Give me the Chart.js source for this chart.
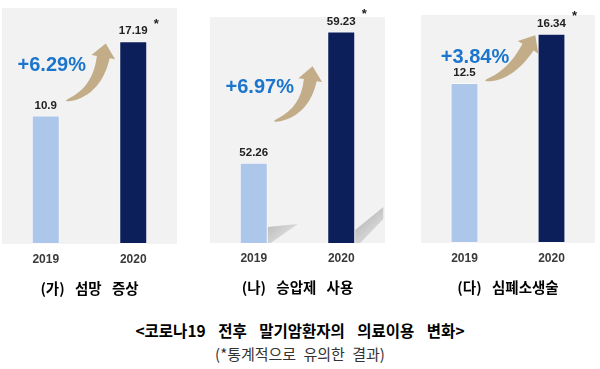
<!DOCTYPE html>
<html>
<head>
<meta charset="utf-8">
<script src="https://cdn.jsdelivr.net/npm/chart.js@4.4.1/dist/chart.umd.min.js"></script>
<style>
  html, body { margin: 0; padding: 0; background: #fff; }
  body { width: 600px; height: 369px; position: relative; overflow: hidden; font-family: "Noto Sans CJK KR", sans-serif; }
  .panel { position: absolute; top: 0; width: 200px; height: 300px; }
  #p1 { left: 0; } #p2 { left: 200px; } #p3 { left: 400px; }
  .caption { position: absolute; left: 0; width: 600px; text-align: center; color: #000; white-space: nowrap; }
  #title { top: 320px; font-weight: bold; font-size: 15.5px; line-height: 20px; word-spacing: 9px; }
  #note { top: 345px; font-size: 15px; line-height: 18px; color: #333; word-spacing: 4px; }
</style>
</head>
<body>
<div class="panel" id="p1"><canvas id="c1" width="200" height="300"></canvas></div>
<div class="panel" id="p2"><canvas id="c2" width="200" height="300"></canvas></div>
<div class="panel" id="p3"><canvas id="c3" width="200" height="300"></canvas></div>
<div class="caption" id="title">&lt;코로나19 전후 말기암환자의 의료이용 변화&gt;</div>
<div class="caption" id="note">(*통계적으로 유의한 결과)</div>
<script>
  /* ─── Data ─── */
  const years = ["2019", "2020"];
  const panelTitles = ["(가) 섬망 증상", "(나) 승압제 사용", "(다) 심폐소생술"];
  const deliriumValues = [10.9, 17.19];
  const vasopressorValues = [52.26, 59.23];
  const cprValues = [12.5, 16.34];
  const changeLabels = ["+6.29%", "+6.97%", "+3.84%"];
  const significant = [false, true];
  const yMins = [0, 48, 0];
  const yMaxes = [20, 60, 17.8];

  /* ─── Styles ─── */
  const BAR_COLORS = ["#adc7eb", "#0c1f5b"];
  const BG = "#f2f2f2";
  const ARROW = "#c3ad88";
  const PCT = "#1b75cc";

  // per-panel layout: padding of the plot box and decoration offsets (px)
  const layouts = [
    { pad: { left: 2, right: 23, top: 8, bottom: 25.6 },
      pct: [6, -49.5], tail: [20, -14.5], base: [-30, 16], ctrl: [31, -8], shadow: false },
    { pad: { left: 10, right: 15, top: 17, bottom: 26.6 },
      pct: [6, -75.5], tail: [20, -41.5], base: [-31, 48.6], ctrl: [31, -8], shadow: true },
    { pad: { left: 21, right: 5, top: 15, bottom: 26.6 },
      pct: [10.5, -25.3], tail: [20.5, -2.3], base: [-23.5, 13.5], ctrl: [25, -4], shadow: false },
  ];

  /* ─── Curved block arrow ─── */
  const drawArrow = (ctx, t, c, b, width, headLen, headWidth) => {
    const n = 30, left = [], right = [];
    for (let i = 0; i <= n; i++) {
      const s = i / n;
      const x = (1 - s) * (1 - s) * t[0] + 2 * (1 - s) * s * c[0] + s * s * b[0];
      const y = (1 - s) * (1 - s) * t[1] + 2 * (1 - s) * s * c[1] + s * s * b[1];
      const dx = 2 * (1 - s) * (c[0] - t[0]) + 2 * s * (b[0] - c[0]);
      const dy = 2 * (1 - s) * (c[1] - t[1]) + 2 * s * (b[1] - c[1]);
      const len = Math.hypot(dx, dy) || 1;
      const nx = -dy / len, ny = dx / len;
      const w = (width / 2) * Math.pow(s, 0.55);
      left.push([x + nx * w, y + ny * w]);
      right.push([x - nx * w, y - ny * w]);
    }
    const ex = b[0] - c[0], ey = b[1] - c[1], el = Math.hypot(ex, ey);
    const ux = ex / el, uy = ey / el, px = -uy, py = ux, hw = headWidth / 2;
    ctx.save();
    ctx.fillStyle = ARROW;
    ctx.beginPath();
    ctx.moveTo(left[0][0], left[0][1]);
    left.forEach((p) => ctx.lineTo(p[0], p[1]));
    ctx.lineTo(b[0] + px * hw, b[1] + py * hw);
    ctx.lineTo(b[0] + ux * headLen, b[1] + uy * headLen);
    ctx.lineTo(b[0] - px * hw, b[1] - py * hw);
    right.slice().reverse().forEach((p) => ctx.lineTo(p[0], p[1]));
    ctx.closePath();
    ctx.fill();
    ctx.restore();
  };

  /* ─── Plugins ─── */
  const backgroundPlugin = {
    id: "panelBg",
    beforeDraw(chart) {
      const { ctx, chartArea: a } = chart;
      ctx.save();
      ctx.fillStyle = BG;
      ctx.fillRect(a.left, a.top, a.right - a.left, a.bottom - a.top);
      ctx.restore();
    },
  };

  const shadowPlugin = {
    id: "barShadow",
    beforeDatasetsDraw(chart, args, opts) {
      if (!opts.enabled) return;
      const { ctx, chartArea: a } = chart;
      const bars = chart.getDatasetMeta(0).data;
      const B = a.bottom;
      const shapes = [
        (r) => [[r, B - 16], [r + 30, B - 19], [r + 3, B], [r, B]],
        (r) => [[r, B - 13], [r + 28, B - 36], [r + 28, B - 24], [r + 5, B], [r, B]],
      ];
      ctx.save();
      bars.forEach((bar, i) => {
        const r = bar.x + bar.width / 2;
        const g = ctx.createLinearGradient(r, B - 30, r + 28, B);
        g.addColorStop(0, "rgba(165,165,165,0.9)");
        g.addColorStop(1, "rgba(215,215,215,0.5)");
        ctx.fillStyle = g;
        ctx.beginPath();
        shapes[i](r).forEach((p, k) => (k ? ctx.lineTo(p[0], p[1]) : ctx.moveTo(p[0], p[1])));
        ctx.closePath();
        ctx.fill();
      });
      ctx.restore();
    },
  };

  const labelPlugin = {
    id: "panelLabels",
    afterDatasetsDraw(chart, args, opts) {
      const { ctx, chartArea: a } = chart;
      const bars = chart.getDatasetMeta(0).data;
      const values = chart.data.datasets[0].data;
      const L = opts.layout;
      ctx.save();
      ctx.textAlign = "center";
      ctx.textBaseline = "middle";

      // values above bars
      ctx.fillStyle = "#222";
      ctx.font = "bold 11.5px 'Liberation Sans', Arial, sans-serif";
      bars.forEach((bar, i) => {
        ctx.fillText(String(values[i]), bar.x, bar.y - 10);
        if (significant[i]) {
          ctx.font = "bold 13px 'Liberation Sans', Arial, sans-serif";
          ctx.fillText("*", bar.x + 23, bar.y - 17);
          ctx.font = "bold 11.5px 'Liberation Sans', Arial, sans-serif";
        }
      });

      const a1 = [bars[0].x, bars[0].y];
      const a2 = [bars[1].x, bars[1].y];
      const tail = [a1[0] + L.tail[0], a1[1] + L.tail[1]];
      const base = [a2[0] + L.base[0], a2[1] + L.base[1]];
      const ctrl = [tail[0] + L.ctrl[0], tail[1] + L.ctrl[1]];
      drawArrow(ctx, tail, ctrl, base, 13, 14, 24);

      // change label
      ctx.fillStyle = PCT;
      ctx.font = "bold 20px 'Liberation Sans', Arial, sans-serif";
      ctx.fillText(opts.change, a1[0] + L.pct[0], a1[1] + L.pct[1]);

      // panel title
      ctx.fillStyle = "#000";
      ctx.font = "bold 14.5px 'Noto Sans CJK KR', sans-serif";
      ctx.wordSpacing = "7px";
      ctx.fillText(opts.title, (a.left + a.right) / 2, a.bottom + 44);
      ctx.restore();
    },
  };

  /* ─── Build panels ─── */
  const makePanel = (id, values, idx) => {
    const L = layouts[idx];
    return new Chart(document.getElementById(id), {
      type: "bar",
      data: {
        labels: years,
        datasets: [{
          data: values,
          backgroundColor: BAR_COLORS,
          borderColor: "rgba(255,255,255,0.55)",
          borderWidth: 1,
          borderSkipped: false,
          barPercentage: 0.32,
          categoryPercentage: 1,
        }],
      },
      options: {
        responsive: false,
        animation: false,
        layout: { padding: L.pad },
        plugins: {
          legend: { display: false },
          tooltip: { enabled: false },
          barShadow: { enabled: L.shadow },
          panelLabels: { layout: L, change: changeLabels[idx], title: panelTitles[idx] },
        },
        scales: {
          x: {
            grid: { display: false, drawTicks: false },
            border: { display: false },
            ticks: { color: "#3a3a3a", padding: 8, font: { family: "'Liberation Sans', Arial, sans-serif", size: 12, weight: "bold" } },
          },
          y: { display: false, min: yMins[idx], max: yMaxes[idx] },
        },
      },
      plugins: [backgroundPlugin, shadowPlugin, labelPlugin],
    });
  };

  makePanel("c1", deliriumValues, 0);
  makePanel("c2", vasopressorValues, 1);
  makePanel("c3", cprValues, 2);
</script>
</body>
</html>
